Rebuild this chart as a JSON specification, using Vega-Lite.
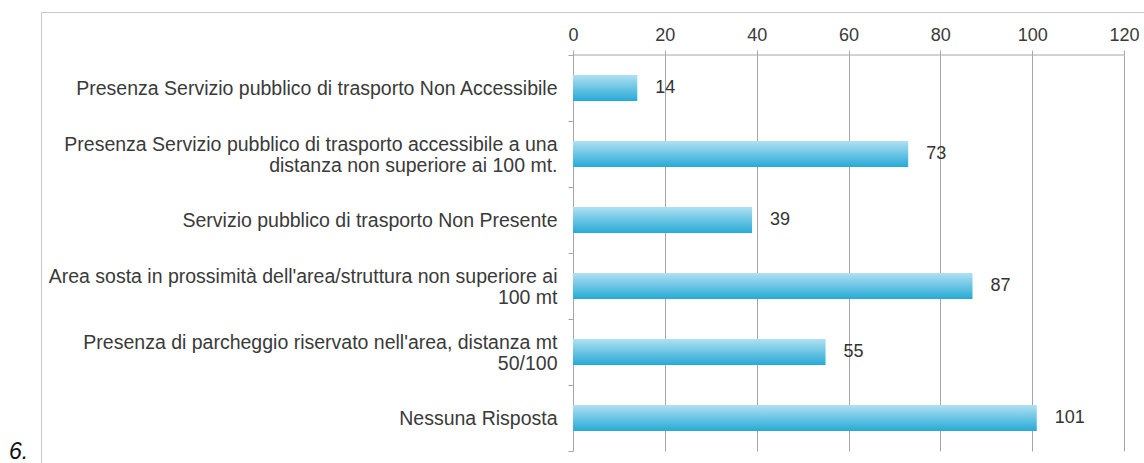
{
  "$schema": "https://vega.github.io/schema/vega-lite/v6.json",
  "width": 1104,
  "height": 455,
  "autosize": {"type": "none"},
  "padding": {"left": 41, "top": 12, "right": 0, "bottom": 0},
  "background": "white",
  "title": {"text": "6.", "orient": "top", "anchor": "start", "dx": -32, "dy": 466, "fontSize": 23, "fontStyle": "italic", "fontWeight": "normal", "font": "Liberation Sans", "color": "#111111"},
  "config": {"view": {"stroke": "#c8c8c8", "strokeWidth": 1}, "font": "Liberation Sans"},
  "data": {"values": [
    {"cat": "Presenza Servizio pubblico di trasporto Non Accessibile", "value": 14},
    {"cat": "Presenza Servizio pubblico di trasporto accessibile a una|distanza non superiore ai 100 mt.", "value": 73},
    {"cat": "Servizio pubblico di trasporto Non Presente", "value": 39},
    {"cat": "Area sosta in prossimità dell'area/struttura non superiore ai|100 mt", "value": 87},
    {"cat": "Presenza di parcheggio riservato nell'area, distanza mt|50/100", "value": 55},
    {"cat": "Nessuna Risposta", "value": 101}
  ]},
  "encoding": {
    "y": {"field": "cat", "type": "nominal", "sort": null,
      "scale": {"paddingInner": 0, "paddingOuter": 0.447, "align": 0.729},
      "axis": {"orient": "left", "offset": -532, "title": null, "domain": false, "ticks": true, "tickBand": "extent", "tickSize": 5, "tickColor": "#a6a6a6", "labelPadding": 11, "labelFontSize": 19.5, "labelColor": "#3a3a3a", "labelExpr": "split(datum.label, '|')", "labelLineHeight": 21, "labelLimit": 700, "labelOffset": {"condition": {"test": "indexof(datum.label, '|') >= 0", "value": -10}, "value": 0}, "grid": false}
    }
  },
  "resolve": {"axis": {"x": "independent"}},
  "layer": [
    {
      "mark": {"type": "bar", "size": 26, "color": {"gradient": "linear", "x1": 0, "y1": 0, "x2": 0, "y2": 1, "stops": [{"offset": 0, "color": "#b0e0f2"}, {"offset": 1, "color": "#26aad6"}]}},
      "encoding": {
        "x": {"field": "value", "type": "quantitative",
          "scale": {"domain": [-115.86, 124.57], "nice": false, "zero": false},
          "axis": {"orient": "top", "offset": -43, "values": [0, 20, 40, 60, 80, 100, 120], "domain": false, "ticks": true, "tickSize": 5, "tickColor": "#a6a6a6", "labelFontSize": 18, "labelColor": "#3a3a3a", "labelPadding": 6, "grid": false, "title": null}
        }
      }
    },
    {
      "mark": {"type": "text", "align": "left", "dx": 18, "fontSize": 18, "color": "#333333"},
      "encoding": {
        "x": {"field": "value", "type": "quantitative",
          "axis": {"orient": "top", "offset": -43, "values": [0, 20, 40, 60, 80, 100, 120], "domain": false, "labels": false, "ticks": true, "tickSize": -396, "tickColor": "#a6a6a6", "grid": false, "title": null}
        },
        "text": {"field": "value", "type": "quantitative"}
      }
    },
    {
      "data": {"values": [{"cat": "Presenza Servizio pubblico di trasporto Non Accessibile", "a": 0, "b": 120}]},
      "mark": {"type": "rule", "color": "#a6a6a6", "strokeWidth": 1},
      "encoding": {
        "y": {"field": "cat", "type": "nominal", "sort": null, "bandPosition": 0},
        "x": {"field": "a", "type": "quantitative", "axis": null},
        "x2": {"field": "b"}
      }
    }
  ]
}
